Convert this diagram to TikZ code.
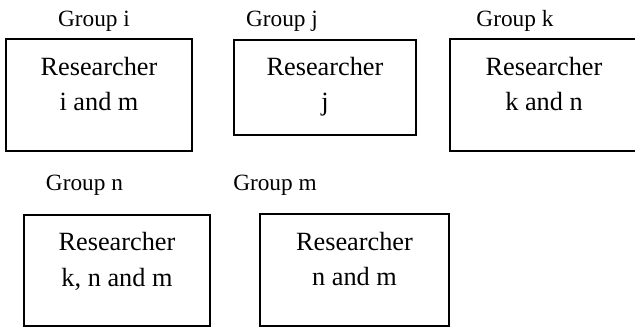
\documentclass[tikz,border=0pt]{standalone}
\usepackage{fontspec}
\setmainfont{Liberation Serif}
\begin{document}
\begin{tikzpicture}[x=1pt,y=-1pt,
  box/.style={draw=black, line width=1.8pt, rectangle, inner sep=0pt},
  body/.style={anchor=base, inner sep=0pt, font=\fontsize{26.3}{30}\selectfont},
  grp/.style={anchor=base, inner sep=0pt, font=\fontsize{23.3}{27}\selectfont}]
\useasboundingbox (0,0) rectangle (635,327);
\clip (0,0) rectangle (635,327);
% top row
\node[grp] (gi) at (94,26) {Group i};
\node[grp] (gj) at (282,26) {Group j};
\node[grp] (gk) at (515,26) {Group k};
\node[box, minimum width=186pt, minimum height=112pt] (bi) at (99,95) {};
\node[box, minimum width=182pt, minimum height=95pt] (bj) at (325,87.5) {};
\node[box, minimum width=196pt, minimum height=112pt] (bk) at (548,95) {};
\node[body] (ti1) at (99,75) {Researcher};
\node[body] (ti2) at (99,110) {i and m};
\node[body] (tj1) at (325,75) {Researcher};
\node[body] (tj2) at (325,110) {j};
\node[body] (tk1) at (544,75) {Researcher};
\node[body] (tk2) at (544,110) {k and n};
% bottom row
\node[grp] (gn) at (84.5,190) {Group n};
\node[grp] (gm) at (275,190) {Group m};
\node[box, minimum width=186pt, minimum height=111pt] (bn) at (117,270.5) {};
\node[box, minimum width=189pt, minimum height=112pt] (bm) at (354.5,270) {};
\node[body] (tn1) at (117,250) {Researcher};
\node[body] (tn2) at (117,286) {k, n and m};
\node[body] (tm1) at (354.5,250) {Researcher};
\node[body] (tm2) at (354.5,285) {n and m};
\end{tikzpicture}
\end{document}
